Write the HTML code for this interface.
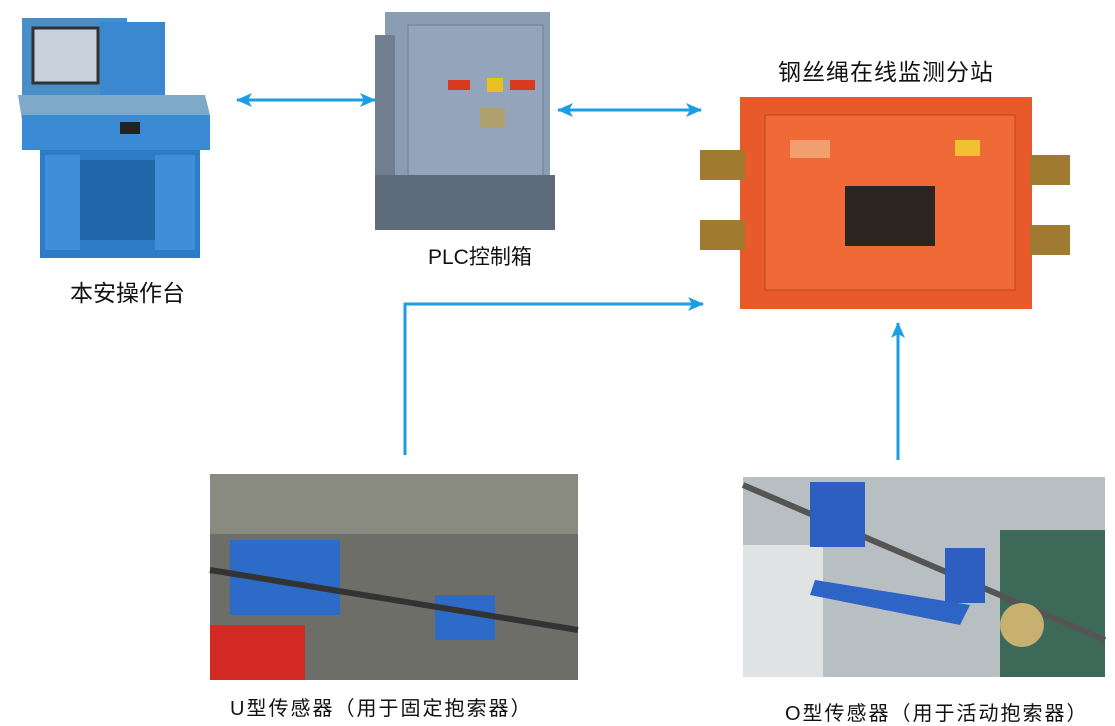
<!DOCTYPE html>
<html><head><meta charset="utf-8"><style>
body{margin:0;width:1115px;height:726px;background:#fff;position:relative;overflow:hidden;font-family:"Liberation Sans","Noto Sans CJK SC",sans-serif}
.a{position:absolute}
.t{position:absolute;font-size:23px;color:#111;white-space:nowrap}
</style></head><body>
<svg class="a" style="left:0;top:0" width="1115" height="726">
<defs><marker id="m" markerWidth="16" markerHeight="14" refX="15" refY="7" orient="auto-start-reverse" markerUnits="userSpaceOnUse"><path d="M0,0 L16,7 L0,14 L4,7 z" fill="#1a9ee6"/></marker></defs>
<rect x="22" y="18" width="105" height="80" fill="#4a8ec8"/>
<rect x="33" y="28" width="65" height="55" fill="#c8d2dc" stroke="#333" stroke-width="3"/>
<rect x="100" y="22" width="65" height="75" fill="#3c88d0"/>
<polygon points="18,95 205,95 210,115 22,120" fill="#7fa9c9"/>
<rect x="22" y="115" width="188" height="35" fill="#3b8ad4"/>
<rect x="40" y="150" width="160" height="108" fill="#2f7cc6"/>
<rect x="45" y="155" width="35" height="95" fill="#3f8fd8"/>
<rect x="155" y="155" width="40" height="95" fill="#3f8fd8"/>
<rect x="80" y="160" width="75" height="80" fill="#2266aa"/>
<rect x="120" y="122" width="20" height="12" fill="#222"/>
<rect x="385" y="12" width="165" height="190" fill="#8a9db3"/>
<rect x="408" y="25" width="135" height="165" fill="#93a5bb" stroke="#6d7f95"/>
<rect x="375" y="35" width="20" height="150" fill="#6f7f90"/>
<rect x="375" y="175" width="180" height="55" fill="#5e6c7c"/>
<rect x="448" y="80" width="22" height="10" fill="#d83a20"/>
<rect x="487" y="78" width="16" height="14" fill="#e8c020"/>
<rect x="510" y="80" width="25" height="10" fill="#d83a20"/>
<rect x="480" y="108" width="25" height="20" fill="#b0a070"/>
<rect x="740" y="97" width="292" height="212" fill="#e85a2a"/>
<rect x="765" y="115" width="250" height="175" fill="#ef6a36" stroke="#c24418"/>
<rect x="700" y="150" width="45" height="30" fill="#a07a30"/>
<rect x="700" y="220" width="45" height="30" fill="#a07a30"/>
<rect x="1030" y="155" width="40" height="30" fill="#a07a30"/>
<rect x="1030" y="225" width="40" height="30" fill="#a07a30"/>
<rect x="845" y="186" width="90" height="60" fill="#2a2520"/>
<rect x="790" y="140" width="40" height="18" fill="#f3a070"/>
<rect x="955" y="140" width="25" height="16" fill="#f2c030"/>
<rect x="210" y="474" width="368" height="206" fill="#6d6e68"/>
<rect x="210" y="474" width="368" height="60" fill="#8a8b80"/>
<rect x="230" y="540" width="110" height="75" fill="#2c6bc8"/>
<rect x="435" y="595" width="60" height="45" fill="#2c6bc8"/>
<rect x="210" y="625" width="95" height="55" fill="#d42a25"/>
<line x1="210" y1="570" x2="578" y2="630" stroke="#333" stroke-width="6"/>
<rect x="743" y="477" width="362" height="200" fill="#b8bfc2"/>
<rect x="743" y="545" width="80" height="132" fill="#dfe3e4"/>
<rect x="1000" y="530" width="105" height="147" fill="#3d6a58"/>
<line x1="743" y1="485" x2="1105" y2="640" stroke="#555" stroke-width="6"/>
<rect x="810" y="482" width="55" height="65" fill="#2c5fc0"/>
<rect x="945" y="548" width="40" height="55" fill="#2c5fc0"/>
<polygon points="815,580 970,605 960,625 810,595" fill="#2d64c5"/>
<circle cx="1022" cy="625" r="22" fill="#c8b070"/>
<g stroke="#1a9ee6" stroke-width="3" fill="none">
<line x1="237" y1="100" x2="375" y2="100" marker-start="url(#m)" marker-end="url(#m)"/>
<line x1="558" y1="110" x2="701" y2="110" marker-start="url(#m)" marker-end="url(#m)"/>
<polyline points="405,455 405,304 703,304" marker-end="url(#m)"/>
<line x1="898" y1="460" x2="898" y2="323" marker-end="url(#m)"/>
</g>
</svg>
<div class="t" style="left:70px;top:274px">本安操作台</div>
<div class="t" style="left:428px;top:241px;font-size:21px">PLC控制箱</div>
<div class="t" style="left:778px;top:53px;font-size:23px;letter-spacing:1px">钢丝绳在线监测分站</div>
<div class="t" style="left:230px;top:692px;font-size:20px;letter-spacing:2px">U型传感器（用于固定抱索器）</div>
<div class="t" style="left:785px;top:697px;font-size:20px;letter-spacing:2px">O型传感器（用于活动抱索器）</div>
</body></html>
